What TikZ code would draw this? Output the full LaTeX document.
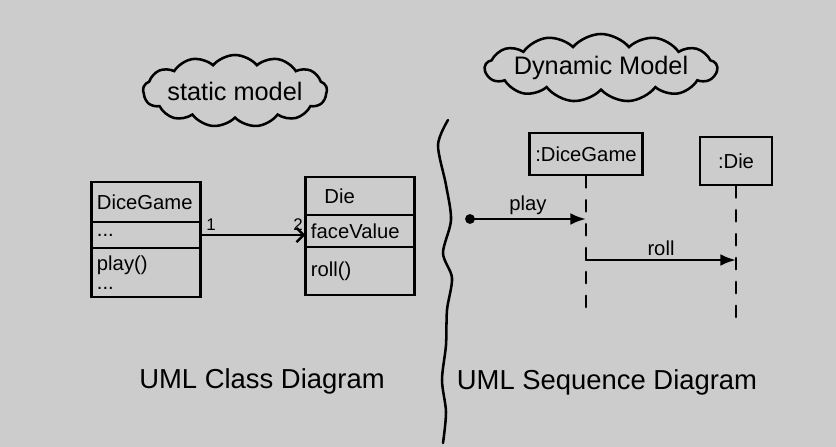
\documentclass[tikz,border=0pt]{standalone}
\usepackage{fontspec}
\setmainfont{Liberation Sans}
\usetikzlibrary{positioning, arrows.meta, shapes.symbols, calc}

\begin{document}
\begin{tikzpicture}[
    x=0.025cm, y=-0.025cm,
    line width=1.8pt,
    line cap=round,
    >=Latex,
    node distance=0pt,
    modelcloud/.style={
        draw=black,
        cloud,
        cloud puffs=13,
        cloud puff arc=100,
        cloud ignores aspect,
        inner xsep=-20pt,
        inner ysep=1pt,
        font=\fontsize{18}{22}\selectfont
    },
    classpart/.style={
        draw=black,
        outer sep=0pt,
        minimum width=2.7cm,
        text width=2.45cm,
        inner xsep=4pt,
        align=left,
        font=\Large
    },
    objbox/.style={
        draw=black,
        minimum height=1.05cm,
        inner xsep=3pt,
        align=center,
        font=\Large
    },
    lifeline/.style={dash pattern=on 8pt off 9pt},
    assocarrow/.style={-{Straight Barb[length=5pt]}},
    msgarrow/.style={->},
    multtext/.style={font=\large, inner sep=2pt},
    msgtext/.style={font=\Large, inner sep=2pt},
    titletext/.style={font=\fontsize{19.5}{22}\selectfont}
]
% ============================================================
% BACKGROUND -- fixes the size of the page
% ============================================================
\fill[black!20] (0,0) rectangle (836,447);
\useasboundingbox (0,0) rectangle (836,447);
% ============================================================
% MODEL CLOUDS
% ============================================================
\node[modelcloud, minimum width=4.6cm, minimum height=1.8cm]
    (staticcloud) at (235,91) {static model};
\node[modelcloud, minimum width=5.8cm, minimum height=1.7cm]
    (dynamiccloud) at (601,68) {Dynamic Model};
% ============================================================
% CLASS DIAGRAM -- three stacked compartments per class
% ============================================================
\node[classpart, minimum height=1.0cm, anchor=north] (dgname) at (146,182) {DiceGame};
\node[classpart, minimum height=0.65cm, below=of dgname] (dgattr) {...};
\node[classpart, minimum height=1.225cm, below=of dgattr] (dgops) {play()\\[-4pt]...};
\node[classpart, minimum height=0.95cm, anchor=north] (diename) at (360,177) {\ \ Die};
\node[classpart, minimum height=0.8cm, below=of diename] (dieattr) {faceValue};
\node[classpart, minimum height=1.2cm, below=of dieattr] (dieops) {roll()};
% association with multiplicities
\draw[assocarrow] (dgattr.east) -- (dgattr.east -| dieattr.west)
    node[multtext, pos=0.1, above] {1}
    node[multtext, pos=0.93, above] {2};
% ============================================================
% DIVIDER -- wavy line between both halves
% ============================================================
\draw plot[smooth] coordinates {(448,120) (438,145) (446,185) (451,220)
    (443,253) (452,278) (447,310) (446,345) (442,380) (446,412) (443,443)};
% ============================================================
% SEQUENCE DIAGRAM
% ============================================================
\node[objbox, minimum width=2.825cm] (dgobj) at (586,154) {:DiceGame};
\node[objbox, minimum width=1.8cm, minimum height=1.2cm] (dieobj) at (736,161) {:Die};
\coordinate (dgend) at ($(dgobj.south)+(0,140)$);
\coordinate (dieend) at ($(dieobj.south)+(0,135)$);
\draw[lifeline] (dgobj.south) -- (dgend);
\draw[lifeline] (dieobj.south) -- (dieend);
% found message from the left
\coordinate (playstart) at (470,219);
\fill (playstart) circle (3.5pt);
\draw[msgarrow] (playstart) -- (dgobj.south |- playstart)
    node[msgtext, midway, above] {play};
% message between the two lifelines
\coordinate (rollrow) at (0,260);
\draw[msgarrow] (dgobj.south |- rollrow) -- (dieobj.south |- rollrow)
    node[msgtext, midway, above] {roll};
% ============================================================
% TITLES
% ============================================================
\node[titletext] (classtitle) at (262,381) {UML Class Diagram};
\node[titletext] (seqtitle) at (607,382) {UML Sequence Diagram};
\end{tikzpicture}
\end{document}
